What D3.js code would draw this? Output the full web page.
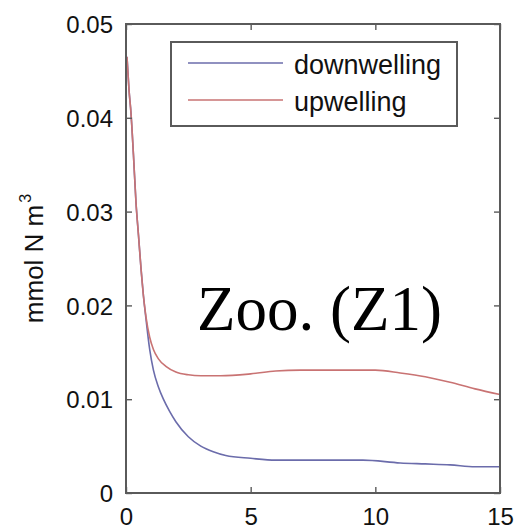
<!DOCTYPE html>
<html>
<head>
<meta charset="utf-8">
<script src="https://cdn.jsdelivr.net/npm/d3@7"></script>
<style>
  html, body { margin: 0; padding: 0; background: #fff; }
  svg { display: block; }
  text { font-family: "Liberation Sans", Arial, Helvetica, sans-serif; }
</style>
</head>
<body>
<svg id="chart" width="514" height="531"></svg>
<script>
// Time (days) and zooplankton concentration (mmol N m^-3)
const downDays = [0.04, 0.12, 0.2, 0.3, 0.4, 0.5, 0.6, 0.7, 0.8, 0.95, 1.1, 1.3, 1.5, 1.75, 2.0, 2.5, 3.0, 3.5, 4.0, 5.0, 6.0, 7.0, 8.0, 9.5, 11.0, 12.0, 13.0, 14.0, 15.0];
const downValues = [0.0465, 0.0430, 0.0405, 0.0360, 0.0310, 0.0275, 0.0240, 0.0210, 0.0186, 0.0153, 0.0131, 0.0113, 0.0100, 0.0087, 0.0076, 0.0060, 0.0050, 0.0044, 0.0040, 0.0037, 0.0035, 0.0035, 0.0035, 0.0035, 0.0032, 0.0031, 0.0030, 0.0028, 0.0028];

const upDays = [0.04, 0.12, 0.2, 0.3, 0.4, 0.5, 0.6, 0.7, 0.8, 0.95, 1.1, 1.3, 1.6, 2.0, 2.5, 3.0, 3.8, 5.0, 6.0, 7.0, 8.0, 9.0, 10.0, 11.0, 12.0, 13.0, 14.0, 15.0];
const upValues = [0.0465, 0.0430, 0.0405, 0.0360, 0.0310, 0.0275, 0.0240, 0.0210, 0.0188, 0.0166, 0.0153, 0.0143, 0.0135, 0.0129, 0.0126, 0.0125, 0.0125, 0.0127, 0.0130, 0.0131, 0.0131, 0.0131, 0.0131, 0.0128, 0.0124, 0.0118, 0.0111, 0.0105];

const seriesNames = ["downwelling", "upwelling"];
const seriesColors = ["#6b6cab", "#c97373"];
const xTicks = [0, 5, 10, 15];
const yTicks = [0, 0.01, 0.02, 0.03, 0.04, 0.05];
const yLabel = "mmol N m";
const yLabelSup = "3";
const panelTitle = "Zoo. (Z1)";

const svg = d3.select("#chart");
const margin = { left: 126, right: 14, top: 24, bottom: 38 };
const W = 514, H = 531;
const x = d3.scaleLinear().domain([0, 15]).range([margin.left, W - margin.right]);
const y = d3.scaleLinear().domain([0, 0.05]).range([H - margin.bottom, margin.top]);

const axisColor = "#5a5a5a";
const tickLen = 6;

// curves
const series = [
  { name: seriesNames[0], color: seriesColors[0], pts: downDays.map((d, i) => [d, downValues[i]]) },
  { name: seriesNames[1], color: seriesColors[1], pts: upDays.map((d, i) => [d, upValues[i]]) }
];
const line = d3.line().x(d => x(d[0])).y(d => y(d[1])).curve(d3.curveMonotoneX);
svg.append("g").selectAll("path").data(series).join("path")
  .attr("d", d => line(d.pts))
  .attr("fill", "none")
  .attr("stroke", d => d.color)
  .attr("stroke-width", 1.6);

// axes with inward ticks on all four sides
const fmtY = v => v === 0 ? "0" : d3.format(".2f")(v);
const axLeft = svg.append("g").attr("transform", `translate(${margin.left},0)`)
  .call(d3.axisLeft(y).tickValues(yTicks).tickFormat(fmtY).tickSizeInner(-tickLen).tickSizeOuter(0).tickPadding(13));
const axRight = svg.append("g").attr("transform", `translate(${W - margin.right},0)`)
  .call(d3.axisRight(y).tickValues(yTicks).tickFormat("").tickSizeInner(-tickLen).tickSizeOuter(0));
const axBottom = svg.append("g").attr("transform", `translate(0,${H - margin.bottom})`)
  .call(d3.axisBottom(x).tickValues(xTicks).tickFormat(d3.format("d")).tickSizeInner(-tickLen).tickSizeOuter(0).tickPadding(15));
const axTop = svg.append("g").attr("transform", `translate(0,${margin.top})`)
  .call(d3.axisTop(x).tickValues(xTicks).tickFormat("").tickSizeInner(-tickLen).tickSizeOuter(0));

[axLeft, axRight, axBottom, axTop].forEach(g => {
  g.select(".domain").remove();
  g.selectAll(".tick line").attr("stroke", axisColor).attr("stroke-width", 1.4);
  g.selectAll(".tick text").attr("fill", "#111").attr("font-size", 24);
});
axLeft.selectAll(".tick text").attr("dy", "0.36em");

// plot frame
svg.append("rect")
  .attr("x", margin.left).attr("y", margin.top)
  .attr("width", W - margin.right - margin.left)
  .attr("height", H - margin.bottom - margin.top)
  .attr("fill", "none").attr("stroke", axisColor).attr("stroke-width", 2);

// y axis label
const yl = svg.append("text")
  .attr("transform", `translate(43,${(margin.top + H - margin.bottom) / 2}) rotate(-90)`)
  .attr("text-anchor", "middle")
  .attr("font-size", 26)
  .attr("fill", "#111");
yl.append("tspan").text(yLabel);
yl.append("tspan").attr("font-size", 16).attr("dy", -12).attr("dx", 2).text(yLabelSup);

// legend
const legend = svg.append("g");
legend.append("rect")
  .attr("x", 171).attr("y", 42).attr("width", 286).attr("height", 84)
  .attr("fill", "#fff").attr("stroke", axisColor).attr("stroke-width", 2);
const rows = legend.selectAll("g.row").data(series).join("g").attr("class", "row")
  .attr("transform", (d, i) => `translate(0,${63 + i * 37})`);
rows.append("line").attr("x1", 188).attr("x2", 283).attr("y1", 0).attr("y2", 0)
  .attr("stroke", d => d.color).attr("stroke-width", 1.6);
rows.append("text").attr("x", 294).attr("y", 11).attr("font-size", 27).attr("fill", "#111")
  .text(d => d.name);

// panel title
svg.append("text")
  .attr("x", 197).attr("y", 330)
  .style("font-family", "'Liberation Serif', 'Times New Roman', serif")
  .attr("font-size", 63).attr("fill", "#000")
  .text(panelTitle);
</script>
</body>
</html>
